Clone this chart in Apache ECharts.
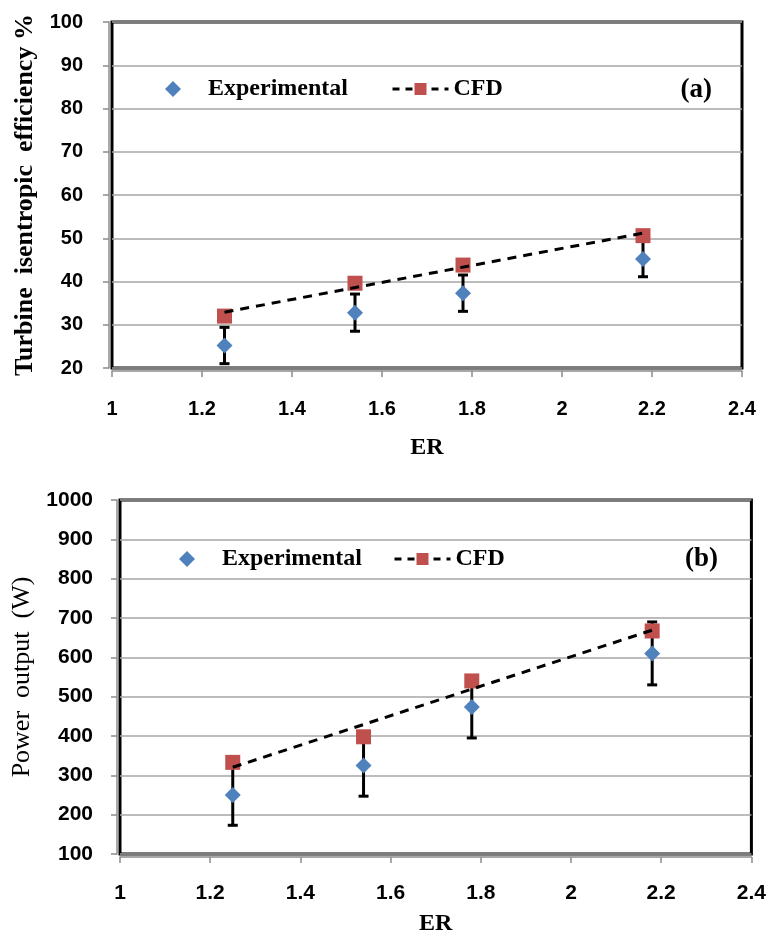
<!DOCTYPE html>
<html>
<head>
<meta charset="utf-8">
<script src="https://cdn.jsdelivr.net/npm/echarts@6/dist/echarts.min.js"></script>
<style>
  html, body { margin: 0; padding: 0; background: #fff; }
  #chart { width: 769px; height: 937px; }
</style>
</head>
<body>
<div id="chart"></div>
<script>
// Expansion ratio at which both turbine runs were taken
const er = [1.25, 1.54, 1.78, 2.18];

// (a) isentropic efficiency, %
const effExp = [25.2, 32.8, 37.3, 45.2];
const effExpErr = [4.2, 4.3, 4.2, 4.1];
const effCfd = [32.0, 39.6, 43.8, 50.6];

// (b) power output, W
const powExp = [250, 325, 474, 610];
const powExpErr = [77, 78, 79, 80];
const powCfd = [333, 398, 540, 667];

// Axis ticks
const erTicks = [1, 1.2, 1.4, 1.6, 1.8, 2, 2.2, 2.4];
const effTicks = [20, 30, 40, 50, 60, 70, 80, 90, 100];
const powTicks = [100, 200, 300, 400, 500, 600, 700, 800, 900, 1000];

const BLUE = '#4F81BD';
const RED = '#C0504D';
const NUM_FONT = "'Liberation Sans', 'Arial', sans-serif";
const SERIF = "'Liberation Serif', 'DejaVu Serif', serif";

function tickSpec(ticks) {
  return {
    min: ticks[0],
    max: ticks[ticks.length - 1],
    interval: +(ticks[1] - ticks[0]).toFixed(10)
  };
}

// Least-squares straight line through the CFD points, drawn between the first and last ER
function trend(xs, ys) {
  const n = xs.length;
  const mx = xs.reduce((a, b) => a + b, 0) / n;
  const my = ys.reduce((a, b) => a + b, 0) / n;
  let sxy = 0, sxx = 0;
  for (let i = 0; i < n; i++) {
    sxy += (xs[i] - mx) * (ys[i] - my);
    sxx += (xs[i] - mx) * (xs[i] - mx);
  }
  const k = sxy / sxx;
  const x0 = xs[0], x1 = xs[n - 1];
  return [[x0, my + k * (x0 - mx)], [x1, my + k * (x1 - mx)]];
}

function errorBars(xs, ys, errs) {
  return xs.map((x, i) => [x, ys[i] - errs[i], ys[i] + errs[i]]);
}

function renderErrorBar(params, api) {
  const x = api.value(0);
  const lo = api.coord([x, api.value(1)]);
  const hi = api.coord([x, api.value(2)]);
  const half = 5;
  const st = { stroke: '#000', lineWidth: 3 };
  return {
    type: 'group',
    children: [
      { type: 'line', shape: { x1: hi[0], y1: hi[1], x2: lo[0], y2: lo[1] }, style: st },
      { type: 'line', shape: { x1: hi[0] - half, y1: hi[1], x2: hi[0] + half, y2: hi[1] }, style: st },
      { type: 'line', shape: { x1: lo[0] - half, y1: lo[1], x2: lo[0] + half, y2: lo[1] }, style: st }
    ]
  };
}

const plainNumber = v => String(+v.toFixed(6));

function xAxisFor(gridIndex, fontSize, labelMargin, nameGap) {
  return Object.assign({
    type: 'value',
    gridIndex: gridIndex,
    offset: 3,
    name: 'ER',
    nameLocation: 'middle',
    nameGap: nameGap,
    nameTextStyle: { fontFamily: SERIF, fontWeight: 'bold', fontSize: 24, color: '#000' },
    axisLine: { show: true, lineStyle: { color: '#8c8c8c', width: 1.5 } },
    axisTick: { show: true, length: 6, lineStyle: { color: '#8c8c8c', width: 1.5 } },
    axisLabel: { margin: labelMargin, formatter: plainNumber, fontFamily: NUM_FONT, fontWeight: 'bold', fontSize: fontSize, color: '#000' },
    splitLine: { show: false }
  }, tickSpec(erTicks));
}

function yAxisFor(gridIndex, ticks, fontSize, name, nameStyle, labelMargin, nameGap) {
  return Object.assign({
    type: 'value',
    gridIndex: gridIndex,
    offset: 3,
    name: name,
    nameLocation: 'middle',
    nameRotate: 90,
    nameGap: nameGap,
    nameTextStyle: nameStyle,
    axisLine: { show: true, lineStyle: { color: '#8c8c8c', width: 1.5 } },
    axisTick: { show: true, length: 6, lineStyle: { color: '#8c8c8c', width: 1.5 } },
    axisLabel: { margin: labelMargin, formatter: plainNumber, fontFamily: NUM_FONT, fontWeight: 'bold', fontSize: fontSize, color: '#000' },
    splitLine: { show: true, lineStyle: { color: '#a6a6a6', width: 1.5 } }
  }, tickSpec(ticks));
}

function panelSeries(idx, tag, expVals, expErr, cfdVals) {
  return [
    {
      name: 'CFD',
      id: 'trend' + tag,
      type: 'line',
      xAxisIndex: idx, yAxisIndex: idx,
      data: trend(er, cfdVals),
      symbol: 'rect',
      symbolSize: 14,
      showSymbol: false,
      itemStyle: { color: RED, opacity: 1 },
      lineStyle: { color: '#000', width: 3, type: [9, 7] },
      z: 6,
      silent: true
    },
    {
      name: 'err' + tag,
      type: 'custom',
      xAxisIndex: idx, yAxisIndex: idx,
      data: errorBars(er, expVals, expErr),
      encode: { x: 0, y: [1, 2] },
      renderItem: renderErrorBar,
      z: 2,
      silent: true
    },
    {
      name: 'Experimental',
      type: 'scatter',
      xAxisIndex: idx, yAxisIndex: idx,
      data: er.map((x, i) => [x, expVals[i]]),
      symbol: 'diamond',
      symbolSize: 16,
      itemStyle: { color: BLUE, opacity: 1 },
      z: 3
    },
    {
      name: 'CFD',
      type: 'scatter',
      xAxisIndex: idx, yAxisIndex: idx,
      data: er.map((x, i) => [x, cfdVals[i]]),
      symbol: 'rect',
      symbolSize: 15,
      itemStyle: { color: RED, opacity: 1 },
      z: 4
    }
  ];
}

const legendText = { fontFamily: SERIF, fontWeight: 'bold', fontSize: 24, color: '#000' };

function legendPair(expLeft, cfdLeft, top) {
  return [
    {
      data: ['Experimental'],
      left: expLeft, top: top,
      itemWidth: 16, itemHeight: 16,
      textStyle: Object.assign({ padding: [0, 0, 0, 22] }, legendText),
      selectedMode: false
    },
    {
      data: ['CFD'],
      left: cfdLeft, top: top,
      itemWidth: 56, itemHeight: 15,
      lineStyle: { width: 3, type: [7, 6] },
      textStyle: legendText,
      selectedMode: false
    }
  ];
}

const chart = echarts.init(document.getElementById('chart'), null, { renderer: 'canvas' });

chart.setOption({
  animation: false,
  backgroundColor: '#fff',
  title: [
    { text: '(a)', right: 52, top: 72, textStyle: { fontFamily: SERIF, fontWeight: 'bold', fontSize: 27, color: '#000' } },
    { text: '(b)', right: 46, top: 541, textStyle: { fontFamily: SERIF, fontWeight: 'bold', fontSize: 27, color: '#000' } }
  ],
  legend: legendPair(160, 386, 72).concat(legendPair(174, 388, 542)),
  grid: [
    { left: 112, top: 22, width: 630, height: 346, show: true, borderColor: '#000', borderWidth: 3, backgroundColor: 'transparent' },
    { left: 120, top: 500, width: 632, height: 357.5, show: true, borderColor: '#000', borderWidth: 3, backgroundColor: 'transparent' }
  ],
  xAxis: [xAxisFor(0, 20, 28, 65), xAxisFor(1, 21, 26, 55)],
  yAxis: [
    yAxisFor(0, effTicks, 20, 'Turbine  isentropic  efficiency %',
      { fontFamily: SERIF, fontWeight: 'bold', fontSize: 26, color: '#000' }, 26, 63),
    yAxisFor(1, powTicks, 21, 'Power  output  (W)',
      { fontFamily: SERIF, fontWeight: 'normal', fontSize: 26, color: '#000' }, 24, 77)
  ],
  series: panelSeries(0, 'a', effExp, effExpErr, effCfd)
    .concat(panelSeries(1, 'b', powExp, powExpErr, powCfd))
});
</script>
</body>
</html>
